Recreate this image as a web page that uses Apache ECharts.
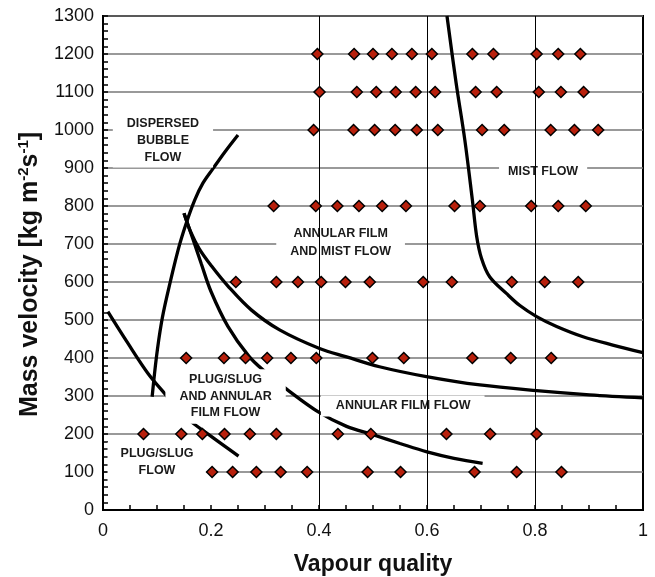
<!DOCTYPE html>
<html>
<head>
<meta charset="utf-8">
<script src="https://cdn.jsdelivr.net/npm/echarts@6/dist/echarts.min.js"></script>
<style>
  html, body { margin: 0; padding: 0; background: #fff; }
  #chart { width: 655px; height: 577px; }
</style>
</head>
<body>
<div id="chart"></div>
<script>
// Axis ticks
const xTicks = [0, 0.2, 0.4, 0.6, 0.8, 1];
const xTickLabels = ['0', '0.2', '0.4', '0.6', '0.8', '1'];
const yTickStep = 100;

// Measured test points: vapour quality at each mass velocity (kg m-2 s-1)
const massVelocities = [100, 200, 400, 600, 800, 1000, 1100, 1200];
const q100 = [0.202, 0.240, 0.284, 0.329, 0.378, 0.490, 0.551, 0.688, 0.766, 0.849];
const q200 = [0.075, 0.145, 0.184, 0.225, 0.272, 0.321, 0.435, 0.496, 0.636, 0.717, 0.803];
const q400 = [0.154, 0.224, 0.264, 0.304, 0.348, 0.395, 0.499, 0.557, 0.684, 0.755, 0.830];
const q600 = [0.246, 0.321, 0.361, 0.404, 0.449, 0.494, 0.593, 0.646, 0.757, 0.818, 0.880];
const q800 = [0.316, 0.394, 0.434, 0.474, 0.517, 0.561, 0.651, 0.698, 0.793, 0.843, 0.894];
const q1000 = [0.390, 0.464, 0.503, 0.541, 0.581, 0.620, 0.702, 0.743, 0.829, 0.873, 0.917];
const q1100 = [0.401, 0.470, 0.506, 0.542, 0.579, 0.615, 0.690, 0.729, 0.807, 0.848, 0.890];
const q1200 = [0.397, 0.465, 0.500, 0.535, 0.572, 0.609, 0.684, 0.723, 0.803, 0.843, 0.884];

// Flow pattern transition boundaries [quality, mass velocity]
const bubbleBoundary = [[0.091, 298], [0.099, 403], [0.108, 491], [0.118, 560], [0.139, 684], [0.154, 754], [0.170, 816], [0.185, 860], [0.204, 899], [0.225, 941], [0.250, 987]];
const plugBoundary = [[0.009, 522], [0.046, 439], [0.083, 360], [0.114, 307], [0.151, 247], [0.201, 193], [0.251, 142]];
const annularBoundary = [[0.150, 781], [0.166, 715], [0.182, 648], [0.200, 575], [0.231, 484], [0.270, 405], [0.300, 364], [0.340, 318], [0.401, 256], [0.451, 220], [0.500, 198], [0.550, 175], [0.600, 153], [0.650, 136], [0.703, 123]];
const annularMistBoundary = [[0.150, 781], [0.162, 733], [0.178, 688], [0.201, 642], [0.231, 590], [0.275, 526], [0.327, 474], [0.401, 425], [0.451, 403], [0.512, 377], [0.599, 351], [0.698, 329], [0.803, 314], [0.901, 303], [1.0, 295]];
const mistBoundary = [[0.637, 1300], [0.654, 1123], [0.670, 974], [0.684, 816], [0.692, 720], [0.701, 662], [0.716, 614], [0.747, 570], [0.772, 538], [0.803, 509], [0.840, 483], [0.889, 456], [0.944, 434], [1.0, 414]];

// Vertical reference lines
const refQualities = [0.4, 0.6, 0.8];

// Flow regime names and where their text is centred (quality, mass velocity)
const regimeNames = ['DISPERSED\nBUBBLE\nFLOW', 'ANNULAR FILM\nAND MIST FLOW', 'MIST FLOW', 'ANNULAR FILM FLOW', 'PLUG/SLUG\nAND ANNULAR\nFILM FLOW', 'PLUG/SLUG\nFLOW'];
const regimeQ = [0.111, 0.440, 0.815, 0.555, 0.227, 0.100];
const regimeG = [971, 704, 891, 274, 299, 127];

const FONT = '"Liberation Sans", Arial, sans-serif';
// white boxes behind the regime names: [top, right, bottom, left]
const boxPadding = [[2, 14, 0, 14], [5, 14, 12, 14], [6, 9, 20, 9], [4, 14, 0, 15], [5, 14, 0, 14], [5, 13, 0, 13]];
const boxLineHeight = [17, 17.5, 17, 17, 16.5, 17];

const rows = [q100, q200, q400, q600, q800, q1000, q1100, q1200];
const pointData = [];
rows.forEach((qs, i) => qs.forEach(q => pointData.push([q, massVelocities[i]])));

function curve(data) {
  return {
    type: 'line', data: data, showSymbol: false, smooth: 0.35,
    lineStyle: { color: '#000', width: 3.3 }, z: 3, silent: true
  };
}

const option = {
  animation: false,
  backgroundColor: '#fff',
  grid: {
    left: 103, right: 12, top: 16, bottom: 67, containLabel: false, outerBoundsMode: 'none',
    show: true, borderColor: '#000', borderWidth: 2, backgroundColor: 'transparent'
  },
  xAxis: {
    type: 'value', min: xTicks[0], max: xTicks[xTicks.length - 1], interval: 0.2,
    name: 'Vapour quality', nameLocation: 'middle', nameGap: 43,
    nameTextStyle: { fontFamily: FONT, fontSize: 23, fontWeight: 'bold', color: '#111' },
    axisLine: { lineStyle: { color: '#000', width: 2 } },
    axisTick: { inside: true, length: 5, lineStyle: { color: '#000', width: 1.5 } },
    minorTick: { show: true, splitNumber: 4, length: 5, lineStyle: { color: '#000', width: 1.5 } },
    splitLine: { show: false },
    axisLabel: {
      fontFamily: FONT, fontSize: 18, color: '#111', margin: 12,
      formatter: v => { const i = xTicks.findIndex(t => Math.abs(t - v) < 1e-9); return i >= 0 ? xTickLabels[i] : ''; }
    }
  },
  yAxis: {
    type: 'value', min: 0, max: 1300, interval: yTickStep,
    name: '{b|Mass velocity [kg m}{s|-2}{b|s}{s|-1}{b|]}', nameLocation: 'middle', nameGap: 58,
    nameTextStyle: {
      padding: [0, 23, 0, 0],
      rich: {
        b: { fontFamily: FONT, fontSize: 25, fontWeight: 'bold', color: '#111', lineHeight: 29 },
        s: { fontFamily: FONT, fontSize: 15, fontWeight: 'bold', color: '#111', verticalAlign: 'top', lineHeight: 17 }
      }
    },
    axisLine: { lineStyle: { color: '#000', width: 2 } },
    axisTick: { inside: true, length: 5, lineStyle: { color: '#000', width: 1.5 } },
    minorTick: { show: true, splitNumber: 5, length: 5, lineStyle: { color: '#000', width: 1.5 } },
    splitLine: { show: true, lineStyle: { color: '#777', width: 1.5 } },
    axisLabel: { fontFamily: FONT, fontSize: 18, color: '#111', margin: 9, formatter: v => String(v) }
  },
  series: [
    {
      type: 'line', data: [], z: 2, silent: true,
      markLine: {
        symbol: 'none', silent: true, label: { show: false },
        lineStyle: { color: '#000', width: 1, type: 'solid' },
        data: refQualities.map(q => ({ xAxis: q }))
      }
    },
    curve(bubbleBoundary),
    curve(plugBoundary),
    curve(annularBoundary),
    curve(annularMistBoundary),
    curve(mistBoundary),
    {
      type: 'scatter', z: 4, silent: true, symbolSize: 0,
      itemStyle: { opacity: 1 },
      data: regimeNames.map((n, i) => ({
        value: [regimeQ[i], regimeG[i]],
        label: { padding: boxPadding[i], lineHeight: boxLineHeight[i] }
      })),
      label: {
        show: true, position: 'inside', align: 'center', verticalAlign: 'middle',
        formatter: p => regimeNames[p.dataIndex],
        backgroundColor: '#fff', fontFamily: FONT, fontSize: 12.5, fontWeight: 'bold', color: '#1a1a1a'
      }
    },
    {
      type: 'scatter', z: 5, silent: true, data: pointData,
      symbol: 'diamond', symbolSize: 11,
      itemStyle: { color: '#B8200C', borderColor: '#000', borderWidth: 1.5, opacity: 1 }
    }
  ]
};

const chart = echarts.init(document.getElementById('chart'), null, { renderer: 'canvas' });
chart.setOption(option);
</script>
</body>
</html>
